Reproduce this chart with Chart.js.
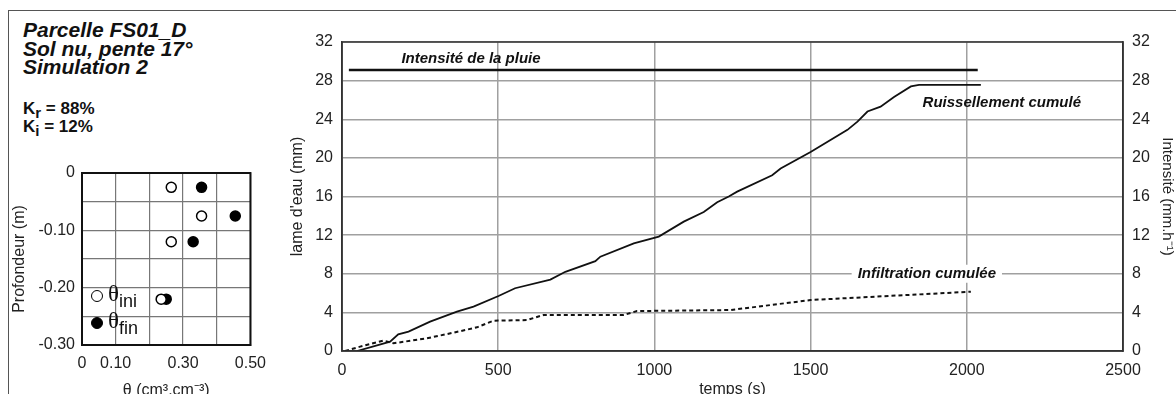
<!DOCTYPE html>
<html>
<head>
<meta charset="utf-8">
<script src="https://cdn.jsdelivr.net/npm/chart.js@4.4.0/dist/chart.umd.min.js"></script>
<style>
  html, body { margin: 0; padding: 0; background: #fff; }
  body { width: 1176px; height: 394px; overflow: hidden; position: relative; font-family: "Liberation Sans", Arial, sans-serif; color: #111; }
  #frame { position: absolute; left: 8px; top: 10px; width: 1200px; height: 400px; border-top: 1.5px solid #555; border-left: 1.5px solid #555; }
  .title { position: absolute; left: 23px; font-weight: bold; font-style: italic; font-size: 21px; line-height: 20px; white-space: nowrap; }
  .coef { position: absolute; left: 23px; font-weight: bold; font-size: 17px; line-height: 16px; white-space: nowrap; }
  .coef sub { font-size: 15px; line-height: 0; }
  #wrapMain { position: absolute; left: 280px; top: 23px; width: 896px; height: 379px; }
  #wrapSmall { position: absolute; left: 10px; top: 150px; width: 265px; height: 253px; }
  .leg { position: absolute; left: 91px; font-size: 18px; line-height: 20px; white-space: nowrap; }
  .dot { position: absolute; left: 0; border-radius: 50%; border: 1.5px solid #000; box-sizing: border-box; width: 12px; height: 12px; }
  .leg .th { font-family: "Liberation Serif", serif; font-size: 23px; }
  .leg sub { font-size: 18px; line-height: 0; vertical-align: -6px; }
</style>
</head>
<body>
<div id="frame"></div>
<div class="title" style="top:20px">Parcelle FS01_D</div>
<div class="title" style="top:39px">Sol nu, pente 17°</div>
<div class="title" style="top:57px">Simulation 2</div>
<div class="coef" style="top:101px">K<sub>r</sub> = 88%</div>
<div class="coef" style="top:119px">K<sub>i</sub> = 12%</div>

<div id="wrapSmall"><canvas id="smallChart"></canvas></div>
<div class="leg" style="top:284px"><span class="dot" style="top:6px;background:#fff"></span><span style="margin-left:17px"><span class="th">θ</span><sub>ini</sub></span></div>
<div class="leg" style="top:311px"><span class="dot" style="top:6px;background:#000"></span><span style="margin-left:17px"><span class="th">θ</span><sub>fin</sub></span></div>

<div id="wrapMain"><canvas id="mainChart"></canvas></div>

<script>
'use strict';

// --- data ---
var rainTime = [22, 2035];
var rainIntensity = [29.1, 29.1];

var runoffTime = [48, 154, 180, 213, 282, 368, 421, 501, 554, 667, 715, 811, 827, 934, 1014, 1094, 1158, 1201, 1238, 1265, 1377, 1404, 1500, 1618, 1650, 1682, 1724, 1767, 1821, 1847, 2045];
var runoffCum = [0, 0.97, 1.72, 2.0, 3.04, 4.07, 4.6, 5.7, 6.5, 7.4, 8.2, 9.3, 9.77, 11.15, 11.85, 13.4, 14.4, 15.4, 16.0, 16.5, 18.2, 18.9, 20.6, 22.9, 23.75, 24.8, 25.3, 26.3, 27.4, 27.55, 27.55];

var infilTime = [10, 58, 132, 165, 271, 357, 432, 485, 592, 645, 902, 944, 1244, 1500, 2013];
var infilCum = [0, 0.45, 1.07, 0.8, 1.31, 1.9, 2.45, 3.14, 3.2, 3.73, 3.73, 4.14, 4.24, 5.28, 6.14];

var depth = [-0.025, -0.075, -0.12, -0.22];
var thetaIni = [0.265, 0.355, 0.265, 0.235];
var thetaFin = [0.355, 0.455, 0.33, 0.25];

var curveLabels = [
    { text: 'Intensité de la pluie', x: 413, y: 30.3, bg: false },
    { text: 'Ruissellement cumulé', x: 2112, y: 25.7, bg: false },
    { text: 'Infiltration cumulée', x: 1872, y: 8.0, bg: true }
];

function pts(xs, ys) {
    return xs.map(function (x, i) { return { x: x, y: ys[i] }; });
}

var FONT = "'Liberation Sans', Arial, sans-serif";
var GRID = '#a0a0a0';
var AXIS = '#333';

// border round the plot area
var frameBox = {
    id: 'frameBox',
    afterDraw: function (chart, args, opts) {
        var a = chart.chartArea, c = chart.ctx;
        c.save();
        c.strokeStyle = opts.color || AXIS;
        c.lineWidth = opts.width || 1.5;
        c.strokeRect(a.left, a.top, a.right - a.left, a.bottom - a.top);
        c.restore();
    }
};

// names written next to the curves
var curveText = {
    id: 'curveText',
    afterDatasetsDraw: function (chart) {
        var c = chart.ctx, xs = chart.scales.x, ys = chart.scales.y;
        c.save();
        c.font = "italic bold 15px " + FONT;
        c.textAlign = 'center';
        c.textBaseline = 'middle';
        curveLabels.forEach(function (l) {
            var px = xs.getPixelForValue(l.x), py = ys.getPixelForValue(l.y);
            if (l.bg) {
                var w = c.measureText(l.text).width;
                c.fillStyle = '#fff';
                c.fillRect(px - w / 2 - 6, py - 9, w + 12, 18);
            }
            c.fillStyle = '#111';
            c.fillText(l.text, px, py);
        });
        c.restore();
    }
};

var ctx = document.getElementById('mainChart').getContext('2d');
var mainChart = new Chart(ctx, {
    type: 'line',
    data: {
        datasets: [{
            label: 'Intensité de la pluie',
            data: pts(rainTime, rainIntensity),
            yAxisID: 'y1',
            borderColor: '#111',
            borderWidth: 2.5,
            pointRadius: 0
        }, {
            label: 'Ruissellement cumulé',
            data: pts(runoffTime, runoffCum),
            borderColor: '#111',
            borderWidth: 1.8,
            pointRadius: 0
        }, {
            label: 'Infiltration cumulée',
            data: pts(infilTime, infilCum),
            borderColor: '#111',
            borderWidth: 2,
            borderDash: [4, 3],
            pointRadius: 0
        }]
    },
    options: {
        responsive: true,
        maintainAspectRatio: false,
        animation: false,
        layout: { padding: { top: 19, right: 0, bottom: 0, left: 0 }, autoPadding: false },
        plugins: {
            legend: { display: false },
            tooltip: { enabled: false },
            frameBox: { color: AXIS, width: 1.5 }
        },
        scales: {
            x: {
                type: 'linear', min: 0, max: 2500,
                ticks: { stepSize: 500, padding: 10, color: '#222', font: { family: FONT, size: 16 },
                    callback: function (v) { return String(v); } },
                grid: { color: GRID, lineWidth: 1.5, drawTicks: false },
                border: { color: AXIS, width: 1.5 },
                title: { display: true, text: 'temps (s)', color: '#222', font: { family: FONT, size: 16 }, padding: { top: 4, bottom: 3 } },
                afterFit: function (s) { s.height = 51; }
            },
            y: {
                min: 0, max: 32,
                ticks: { stepSize: 4, padding: 9, color: '#222', font: { family: FONT, size: 16 } },
                grid: { color: GRID, lineWidth: 1.5, drawTicks: false },
                border: { color: AXIS, width: 1.5 },
                title: { display: true, text: "lame d'eau (mm)", color: '#222', font: { family: FONT, size: 16 }, padding: { top: 8, bottom: 0 } },
                afterFit: function (s) { s.width = 62; }
            },
            y1: {
                position: 'right',
                min: 0, max: 32,
                ticks: { stepSize: 4, padding: 9, color: '#222', font: { family: FONT, size: 16 } },
                grid: { display: false, drawTicks: false },
                border: { color: AXIS, width: 1.5 },
                title: { display: true, text: 'Intensité (mm.h⁻¹)', color: '#222', font: { family: FONT, size: 15 }, padding: { top: 0, bottom: 0 } },
                afterFit: function (s) { s.width = 53; }
            }
        }
    },
    plugins: [frameBox, curveText]
});

var ctx2 = document.getElementById('smallChart').getContext('2d');
var smallChart = new Chart(ctx2, {
    type: 'scatter',
    data: {
        datasets: [{
            label: 'θini',
            data: pts(thetaIni, depth),
            pointRadius: 5,
            pointBorderWidth: 1.5,
            pointBorderColor: '#000',
            pointBackgroundColor: '#fff'
        }, {
            label: 'θfin',
            data: pts(thetaFin, depth),
            pointRadius: 5,
            pointBorderWidth: 1.5,
            pointBorderColor: '#000',
            pointBackgroundColor: '#000'
        }]
    },
    options: {
        responsive: true,
        maintainAspectRatio: false,
        animation: false,
        layout: { padding: { top: 23, right: 18, bottom: 0, left: 0 }, autoPadding: false },
        plugins: {
            legend: { display: false },
            tooltip: { enabled: false },
            frameBox: { color: '#111', width: 2 }
        },
        scales: {
            x: {
                type: 'linear', min: 0, max: 0.5,
                ticks: {
                    stepSize: 0.1, padding: 9, color: '#222', font: { family: FONT, size: 16 },
                    maxRotation: 0, minRotation: 0, autoSkip: false,
                    callback: function (v) {
                        var k = Math.round(v * 10);
                        if (k === 0) return '0';
                        if (k === 2 || k === 4) return '';
                        return (k / 10).toFixed(2);
                    }
                },
                grid: { color: '#777', lineWidth: 1.2, drawTicks: false },
                border: { color: '#111', width: 2 },
                title: { display: true, text: 'θ (cm³.cm⁻³)', color: '#222', font: { family: FONT, size: 16 }, padding: { top: 4, bottom: 3 } },
                afterFit: function (s) { s.height = 58; }
            },
            y: {
                min: -0.3, max: 0,
                ticks: {
                    stepSize: 0.05, padding: 7, color: '#222', font: { family: FONT, size: 16 },
                    autoSkip: false,
                    callback: function (v) {
                        var k = Math.round(v * 100);
                        if (k === 0) return '0';
                        if (k % 10 !== 0) return '';
                        return (k / 100).toFixed(2);
                    }
                },
                grid: { color: '#777', lineWidth: 1.2, drawTicks: false },
                border: { color: '#111', width: 2 },
                title: { display: true, text: 'Profondeur (m)', color: '#222', font: { family: FONT, size: 16 }, padding: { top: 0, bottom: 0 } },
                afterFit: function (s) { s.width = 72; }
            }
        }
    },
    plugins: [frameBox]
});
</script>
</body>
</html>
